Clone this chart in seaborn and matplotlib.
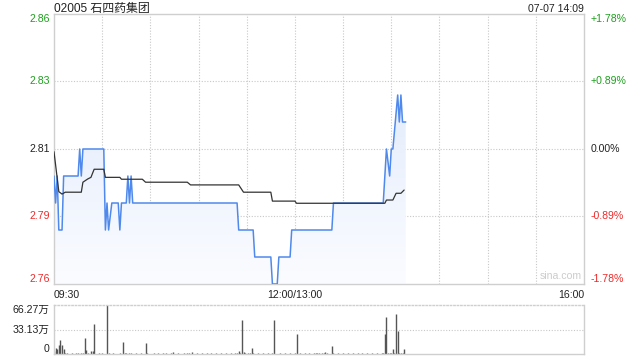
import numpy as np
import pandas as pd
import matplotlib
matplotlib.use("Agg")
import matplotlib.pyplot as plt
from matplotlib.colors import LinearSegmentedColormap
import seaborn as sns

# ---------------- data ----------------
title = "02005 石四药集团"
stamp = "07-07 14:09"
prev_close = 2.81

price_min = [0, 1, 2, 3, 5, 6, 15, 16, 17, 18, 31, 32, 33, 34, 36, 40, 41, 42, 45, 46, 47, 48, 49,
             114, 115, 124, 125, 135, 136, 139, 140, 147, 148, 173, 174, 205, 207, 209, 210, 211,
             214, 215, 216, 217, 219]
price = [2.80, 2.79, 2.80, 2.78, 2.78, 2.80, 2.80, 2.81, 2.80, 2.81, 2.81, 2.78, 2.79, 2.78, 2.79,
         2.79, 2.78, 2.79, 2.79, 2.80, 2.79, 2.80, 2.79,
         2.79, 2.78, 2.78, 2.77, 2.77, 2.76, 2.76, 2.77, 2.77, 2.78, 2.78, 2.79, 2.79, 2.81, 2.80,
         2.81, 2.81, 2.83, 2.82, 2.83, 2.82, 2.82]

avg_min = [0, 3, 5, 7, 17, 18, 21, 23, 25, 31, 32, 41, 42, 55, 57, 83, 85, 115, 118, 135, 136,
           150, 151, 206, 207, 211, 213, 216, 218]
avg = [2.809, 2.7942, 2.7933, 2.7940, 2.7940, 2.7977, 2.7989, 2.7995, 2.8025, 2.8025, 2.7995,
       2.7995, 2.7988, 2.7988, 2.7977, 2.7977, 2.7967, 2.7967, 2.7940, 2.7940, 2.7907, 2.7907,
       2.7899, 2.7899, 2.7911, 2.7911, 2.7936, 2.7936, 2.7948]

# volume per minute (万股), minutes 0..219
volume = [
    4, 8, 6.7, 12.5, 18.4, 11.6, 6.7, 2, 0.8, 0.6, 0.5, 0.8, 0.6, 0.5, 1.2, 0.7, 0.6, 0.8, 1.5, 21.5,
    5, 0.8, 0.6, 3.6, 4.5, 40.7, 0.6, 0.5, 0.8, 0.6, 0.7, 0.5, 0.6, 66.27, 0.8, 0.6, 0.5, 0.7, 0.6, 0.5,
    0.6, 0.8, 0.5, 16.6, 1.5, 0.8, 0.6, 1.2, 0.7, 0.5, 0.6, 1.0, 0.5, 0.6, 0.8, 0.5, 0.6, 15.2, 0.7, 0.5,
    0.6, 0.5, 0.8, 0.6, 0.5, 0.7, 0.6, 0.5, 0.8, 0.6, 1.0, 0.5, 0.6, 0.8, 2.7, 0.6, 0.5, 0.7, 0.6, 0.5,
    0.6, 0.8, 0.5, 0.7, 1.5, 0.6, 2.7, 0.5, 0.6, 0.8, 0.5, 0.6, 0.7, 0.5, 0.6, 0.8, 0.5, 0.6, 0.7, 0.5,
    0.6, 0.8, 0.5, 0.6, 0.7, 0.5, 0.6, 0.8, 0.5, 0.6, 0.7, 0.5, 0.6, 1.0, 2.0, 4.5, 0.8, 46, 3, 1.0,
    0.6, 0.8, 1.2, 8.5, 0.7, 0.5, 0.6, 0.8, 0.5, 0.6, 0.7, 0.5, 0.6, 0.8, 0.5, 0.6, 0.7, 46, 0.6, 0.5,
    0.6, 0.8, 0.5, 0.6, 0.7, 0.5, 0.6, 0.8, 0.5, 0.6, 0.7, 27.3, 0.6, 0.8, 0.5, 0.6, 0.7, 0.5, 0.6, 0.8,
    0.5, 0.6, 0.7, 1.5, 2.0, 1.2, 0.6, 0.8, 1.5, 3.0, 0.7, 0.5, 0.6, 11.2, 0.8, 0.5, 0.6, 0.7, 0.5, 0.6,
    0.8, 0.5, 0.6, 0.7, 0.5, 0.6, 0.8, 0.5, 0.6, 0.7, 0.5, 0.6, 0.8, 0.5, 0.6, 0.7, 0.5, 0.6, 0.8, 0.5,
    0.6, 0.7, 0.5, 0.6, 0.8, 1.0, 27.3, 50.6, 1.5, 0.8, 2.0, 7.0, 1.0, 54.0, 31.3, 1.2, 0.8, 1.0, 7.0, 0.5,
]

price_ticks = [2.76, 2.785, 2.81, 2.835, 2.86]
price_labels = ["2.76", "2.79", "2.81", "2.83", "2.86"]
pct_labels = ["-1.78%", "-0.89%", "0.00%", "+0.89%", "+1.78%"]
x_ticks = [0, 150, 330]
x_labels = ["09:30", "12:00/13:00", "16:00"]
vol_ticks = [0, 33.13, 66.27]
vol_labels = ["0", "33.13万", "66.27万"]

# ---------------- style ----------------
sns.set_style("white")
plt.rcParams["font.family"] = ["Liberation Sans", "Noto Sans CJK SC", "DejaVu Sans"]

GREEN = "#1d9f1d"
RED = "#ee2a2a"
BLACK = "#222222"
BLUE = "#4f89ec"
GRID = "#c8c8c8"
SPINE = "#cfcfcf"
FS = 7.6

W, H = 640, 360
fig = plt.figure(figsize=(6.4, 3.6), dpi=100)
ax = fig.add_axes([54 / W, 1 - 284 / H, 530 / W, 270 / H])
axv = fig.add_axes([54 / W, 1 - 354 / H, 530 / W, 49 / H])

pdf = pd.DataFrame({"t": price_min, "p": price})
adf = pd.DataFrame({"t": avg_min, "a": avg})

# gradient fill under price line
poly = ax.fill_between(pdf["t"], pdf["p"], 2.76, color="none", lw=0)
cmap = LinearSegmentedColormap.from_list("g", ["#fbfcff", "#dae6fb"])
grad = np.linspace(0, 1, 256).reshape(-1, 1)
im = ax.imshow(grad, extent=[0, 330, 2.76, 2.86], origin="lower", aspect="auto",
               cmap=cmap, zorder=1)
im.set_clip_path(poly.get_paths()[0], transform=ax.transData)

sns.lineplot(data=pdf, x="t", y="p", ax=ax, color=BLUE, lw=1.1, zorder=3)
sns.lineplot(data=adf, x="t", y="a", ax=ax, color="#333333", lw=0.9, zorder=4)

ax.set_xlim(0, 330)
ax.set_ylim(2.76, 2.86)
ax.set_xlabel("")
ax.set_ylabel("")

# gridlines
for xv in range(30, 330, 30):
    ax.axvline(xv, color=GRID, lw=0.8, ls=(0, (1, 1.5)), zorder=0.5)
for yv in price_ticks[1:-1]:
    ax.axhline(yv, color=GRID, lw=0.8, ls=(0, (1, 1.5)), zorder=0.5)

for s in ax.spines.values():
    s.set_color(SPINE)
    s.set_linewidth(1)

ax.set_yticks(price_ticks)
ax.set_yticklabels(price_labels)
ax.set_xticks(x_ticks)
ax.set_xticklabels(x_labels)
ax.tick_params(axis="both", length=0, labelsize=FS)
ax.tick_params(axis="y", pad=3)
ax.tick_params(axis="x", pad=4)
cols = [RED, RED, BLACK, GREEN, GREEN]
vas = ["bottom", "center", "center", "center", "top"]
for lab, c, va in zip(ax.get_yticklabels(), cols, vas):
    lab.set_color(c)
    lab.set_va(va)
for lab, ha in zip(ax.get_xticklabels(), ["left", "center", "right"]):
    lab.set_ha(ha)
    lab.set_color(BLACK)

axr = ax.twinx()
axr.set_ylim(2.76, 2.86)
axr.set_yticks(price_ticks)
axr.set_yticklabels(pct_labels)
axr.tick_params(axis="y", length=0, labelsize=FS, pad=5)
for s in axr.spines.values():
    s.set_visible(False)
for lab, c, va in zip(axr.get_yticklabels(), cols, vas):
    lab.set_color(c)
    lab.set_va(va)

ax.text(0.995, 0.01, "sina.com", transform=ax.transAxes, ha="right", va="bottom",
        fontsize=FS, color="#cccccc", zorder=5)

fig.text(54 / W, 1 - 12 / H, title, ha="left", va="baseline", fontsize=8.6, color=BLACK)
fig.text(584 / W, 1 - 12 / H, stamp, ha="right", va="baseline", fontsize=FS, color=BLACK)

# volume panel
vt = list(range(len(volume)))
axv.vlines(vt, 0, volume, color="#555555", lw=1)
axv.set_xlim(0, 330)
axv.set_ylim(0, 66.27)
axv.axhline(33.13, color=GRID, lw=0.8, ls=(0, (1, 1.5)), zorder=0)
for s in axv.spines.values():
    s.set_color(SPINE)
    s.set_linewidth(1)
axv.spines["top"].set_linestyle((0, (1, 1.5)))
axv.set_xticks([])
axv.set_yticks(vol_ticks)
axv.set_yticklabels(vol_labels)
axv.tick_params(axis="y", length=0, labelsize=FS, pad=3)
for lab, va in zip(axv.get_yticklabels(), ["bottom", "center", "top"]):
    lab.set_va(va)
    lab.set_color(BLACK)

fig.savefig("out.png", dpi=100)
